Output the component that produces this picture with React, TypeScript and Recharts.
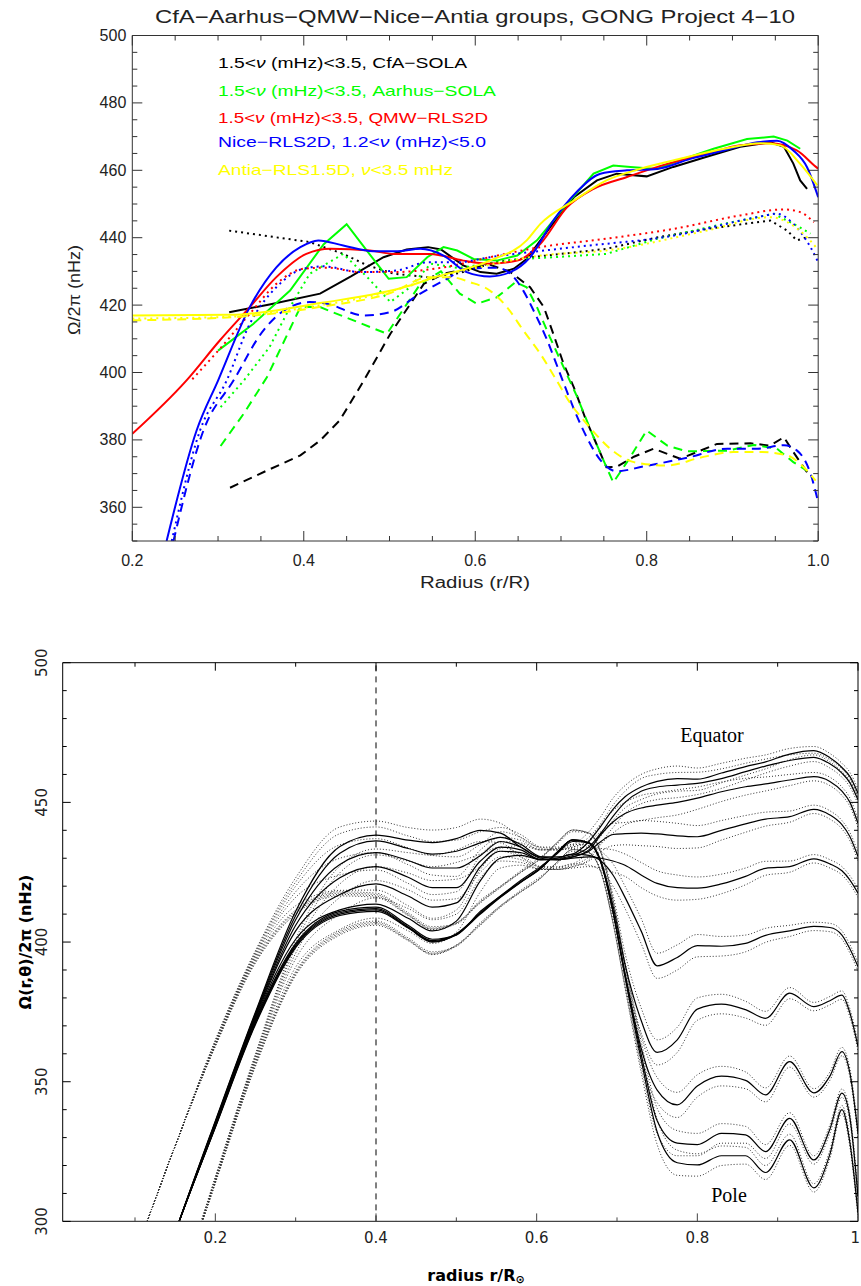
import React from "react";
import { LineChart, Line, XAxis, YAxis, ReferenceLine } from "recharts";

// ================= TOP PANEL DATA: [radius r/R, Omega/2pi (nHz)] =================
const cfaEquator = [[0.313,417.9],[0.36,420.2],[0.419,423.4],[0.455,428.5],[0.493,434.2],[0.52,436.5],[0.545,437.2],[0.56,436.5],[0.586,431.8],[0.606,429.8],[0.625,429.3],[0.645,430.8],[0.66,433.7],[0.687,443],[0.715,452],[0.742,457],[0.765,459],[0.8,458.2],[0.831,461],[0.87,464],[0.909,467],[0.944,468.3],[0.96,467],[0.971,462],[0.979,457],[0.987,454.5]];
const cfaMid = [[0.313,442.1],[0.36,440.4],[0.407,438.7],[0.446,435.2],[0.474,431.8],[0.505,429.3],[0.544,428.3],[0.582,429.5],[0.617,432.5],[0.676,434.5],[0.753,436.7],[0.812,440.1],[0.87,442.6],[0.944,445.1],[0.964,442.1],[0.975,439.2],[0.987,440.1]];
const cfaHigh = [[0.314,365.8],[0.357,370.9],[0.396,375.4],[0.419,379.8],[0.442,385.8],[0.47,397.6],[0.501,411.5],[0.54,426.3],[0.563,429.3],[0.617,432],[0.641,429.8],[0.664,425.3],[0.68,419.4],[0.691,411.5],[0.703,402.6],[0.715,395.6],[0.728,386.7],[0.753,371.9],[0.765,372],[0.785,375],[0.808,377.4],[0.839,374.4],[0.882,378.8],[0.921,379],[0.944,378.3],[0.96,380.8],[0.971,376.4],[0.987,370.4]];

const aarhusEquator = [[0.3,406.5],[0.341,414.4],[0.384,424.3],[0.423,438],[0.45,444],[0.474,436],[0.499,427.8],[0.52,428.3],[0.544,434.2],[0.563,437.2],[0.579,436.2],[0.598,433.7],[0.625,433.2],[0.649,434.7],[0.672,439.2],[0.707,450],[0.738,459],[0.761,461.4],[0.781,461],[0.812,460.4],[0.843,463.4],[0.878,466.4],[0.917,469.3],[0.948,470],[0.964,468.8],[0.979,466.4]];
const aarhusMid = [[0.303,389.7],[0.33,397.6],[0.36,407.5],[0.384,419.4],[0.407,429.3],[0.446,435.2],[0.474,428.3],[0.501,420.9],[0.524,425.3],[0.548,432.3],[0.58,431],[0.62,432.5],[0.656,433.7],[0.711,434.5],[0.753,435.2],[0.812,439.7],[0.89,444.1],[0.948,447.1],[0.975,443.6],[0.991,441.2]];
const aarhusHigh = [[0.303,378.2],[0.33,387.8],[0.357,398.6],[0.396,419.4],[0.419,419.4],[0.497,411.5],[0.536,426.3],[0.56,430],[0.582,423.4],[0.602,420.4],[0.625,422.3],[0.647,426.8],[0.66,425.3],[0.672,419.4],[0.687,410.5],[0.703,401.6],[0.719,392.7],[0.738,380.8],[0.753,371.9],[0.761,367.4],[0.777,373.4],[0.8,382.8],[0.824,378.3],[0.847,376.6],[0.894,376.8],[0.925,378.5],[0.952,377.4],[0.971,373.4],[0.987,370.9]];

const qmwEquator = [[0.2,381.8],[0.263,397.6],[0.302,409.5],[0.337,419.4],[0.368,428.3],[0.403,435.2],[0.431,436.7],[0.477,436.2],[0.505,435.2],[0.547,435.2],[0.586,433.2],[0.614,432.3],[0.649,433.2],[0.676,438.2],[0.707,449],[0.738,454.5],[0.777,458],[0.824,461.9],[0.87,464.9],[0.909,467.4],[0.944,468],[0.975,465.9],[0.997,461.1],[1.0,460.5]];
const qmwMid = [[0.27,398],[0.302,407],[0.337,417.4],[0.368,426.3],[0.4,430.8],[0.427,431.1],[0.466,429.8],[0.505,429.8],[0.563,431.2],[0.617,434.2],[0.676,437.2],[0.753,439.7],[0.831,442.6],[0.909,446.6],[0.96,448.4],[0.979,447.6],[0.995,444.6]];

const niceEquator = [[0.24,350],[0.275,382.8],[0.3,397.6],[0.337,419.4],[0.368,431.2],[0.396,437.2],[0.417,439.2],[0.446,437.7],[0.481,436],[0.509,436],[0.536,436.7],[0.563,434.7],[0.59,429.8],[0.617,428.5],[0.641,429.8],[0.664,434.2],[0.691,445.1],[0.718,453.5],[0.746,459],[0.777,460],[0.812,460.4],[0.851,463.4],[0.89,465.9],[0.929,468.3],[0.952,468.8],[0.971,465.9],[0.987,460.9],[1.0,452]];
const niceMid = [[0.246,350],[0.279,382.8],[0.31,397.6],[0.337,414.4],[0.368,425.3],[0.4,430.8],[0.423,431.5],[0.466,429.8],[0.509,430.3],[0.544,432.7],[0.578,432.7],[0.617,434.2],[0.715,437.2],[0.831,440.6],[0.929,446.1],[0.952,447.1],[0.971,444.1],[0.991,437.2],[1.0,432.7]];
const niceHigh = [[0.248,350],[0.283,382.8],[0.318,397.6],[0.353,412.5],[0.38,418.9],[0.407,420.9],[0.427,420.4],[0.47,416.9],[0.501,417.9],[0.532,422.8],[0.567,427.8],[0.59,430.8],[0.625,431.1],[0.641,429.3],[0.656,424.3],[0.668,418.4],[0.684,409.5],[0.699,399.6],[0.711,391.7],[0.73,380.8],[0.746,374],[0.765,370.7],[0.796,372.1],[0.847,374.7],[0.894,377.4],[0.929,377.4],[0.96,378.4],[0.975,376.9],[0.991,370],[1.0,361.5]];

const antiaEquator = [[0.2,416.9],[0.313,417.1],[0.419,420.6],[0.524,425.8],[0.547,427.8],[0.617,433.2],[0.66,439.2],[0.676,444.1],[0.715,451],[0.753,457],[0.792,460.4],[0.839,463.4],[0.89,466.4],[0.933,468],[0.956,467.4],[0.979,461.9],[0.999,455.5]];
const antiaMid = [[0.2,416],[0.31,416.5],[0.42,420],[0.5,424],[0.55,428],[0.6,431],[0.676,434.7],[0.753,436.2],[0.87,442.1],[0.944,446.1],[0.964,444.6],[0.987,440.1],[0.999,436.7]];
const antiaHigh = [[0.2,415.5],[0.31,416.3],[0.42,419.5],[0.5,423.5],[0.547,428.3],[0.571,428.3],[0.594,426.8],[0.617,424.3],[0.637,419.4],[0.656,412.5],[0.676,405.5],[0.695,397.6],[0.711,390.8],[0.726,386],[0.765,375.9],[0.785,373.4],[0.824,372.4],[0.862,374.7],[0.901,376.4],[0.933,376.4],[0.964,375.4],[0.979,372.9],[0.997,367.9]];

const topXTicks = [0.2,0.25,0.3,0.35,0.4,0.45,0.5,0.55,0.6,0.65,0.7,0.75,0.8,0.85,0.9,0.95,1.0];
const topXMajor = [0.2,0.4,0.6,0.8,1.0];
const topYTicks = [350,355,360,365,370,375,380,385,390,395,400,405,410,415,420,425,430,435,440,445,450,455,460,465,470,475,480,485,490,495,500];
const topYMajor = [360,380,400,420,440,460,480,500];

// ================= BOTTOM PANEL DATA =================
const radii = [0.11,0.15,0.2,0.25,0.3,0.355,0.4,0.44,0.47,0.5,0.53,0.555,0.58,0.605,0.625,0.645,0.665,0.68,0.695,0.71,0.73,0.75,0.775,0.8,0.83,0.86,0.885,0.915,0.945,0.965,0.98,0.99,1.0];
const lat0 = [262,296,336,375,411,434.2,438.3,436.5,435.6,437,440,439,434,430.5,430.5,431.5,436,441.5,447.5,452,455.5,457.5,458.5,458.3,460.5,462.8,464.5,467.3,468.5,466,462.5,459.2,453.3];
const lat10 = [262,296,335.7,374.5,409.5,431.8,436.2,433.5,431.5,432.5,435.5,437.5,435,430.5,430,431,434,439,445,450,454,455.5,456.2,456.8,458.5,461,463,465,466.1,463.8,460.5,457,450.9];
const lat20 = [262,296,335.4,374,408,427.8,432,429.2,426.5,426.5,431,436,434,430,429.5,430.5,433,438.5,443,446,448,449,450,451.5,453.8,455.6,456.6,458,459.2,457.5,454,450,442.5];
const lat30 = [262,296,335,373.5,406,423,427,423.2,419.5,419.5,429,434,433,429.5,429.5,430.5,432.5,436,438.5,438.8,439,438.7,438,437.7,440,442.3,444,444.9,447.5,445.5,442,437.7,430.6];
const lat40 = [262,296,334.7,373,404,417,420.8,416.5,412.5,414,427,432.5,432,429.5,429.5,430,430.5,430,429,427.5,424,421,419.5,419.3,420.8,423.5,426.4,427,429.8,428,425.5,422.2,417.5];
const lat50 = [262,296,334.4,372.5,401,411.5,413.6,408.5,404,407.5,422,430,431,429.5,430,431.5,431,429,424,416,404,391.5,394.5,398.7,398.5,399.5,402.4,404,405.6,405.2,402.5,397.5,391.2];
const lat60 = [262,296,334.2,372,399.5,411,412.5,406,401,402.5,411,416.5,422,427,431.5,436,435.5,429,413,392,372,360.5,365,376,377.8,375.8,372.7,381.7,376.9,379,381,374.5,362.6];
const lat70 = [262,296,334,371.5,399,410.5,412,405.5,400.5,403,410.5,416.5,421.5,426.5,432,436.6,435.5,428.5,411,389,362,347,341.7,348.5,352,350.5,345.3,357.2,346,352,360.8,353,331.6];
const lat80 = [262,296,333.8,371,398.5,410,411.5,405.2,400.2,402.8,410.3,416.2,421.5,426.5,432,436.6,435.5,428.5,411,388,360,336,328,327.5,331.5,331,325,336.9,322,333,345.9,337,308.9];
const lat90 = [262,296,333.6,370.5,398,409.5,411,405,400,402.6,410,416,421.3,426.3,432,436.6,435.5,428.5,411,387.5,358,332,321,320.2,323.5,323.5,317.5,329.2,312,324,340,328,302.9];
const errUp = [34,31,29,22,12,7,5,4.5,4.5,4,4,3.5,3.5,3.5,3.5,3.5,3.5,3.5,4,4,4.5,4.5,4.5,4,3.5,3,2.5,2,1.5,1.5,1.5,1.5,1.5];
const errDown = [30,26,20,15,10,7,5,4.5,4.5,4,4,3.5,3.5,3.5,3.5,3.5,3.5,3.5,4,4,4.5,4.5,4.5,4,3.5,3,2.5,2,1.5,1.5,1.5,1.5,1.5];

const botXTicks = [0.1,0.2,0.3,0.4,0.5,0.6,0.7,0.8,0.9,1.0];
const botXMajor = [0.2,0.4,0.6,0.8,1.0];
const botYTicks = [300,310,320,330,340,350,360,370,380,390,400,410,420,430,440,450,460,470,480,490,500];
const botYMajor = [300,350,400,450,500];

// ================= helpers =================
const toPts = (arr: number[][]) => arr.map(([r, v]) => ({ r, v }));
const curvePts = (vals: number[], shift?: number[], sign = 0) =>
  radii.map((r, i) => ({ r, v: vals[i] + (shift ? sign * shift[i] : 0) }));

const BLACK = "#000000", GREEN = "#00ff00", RED = "#ff0000", BLUE = "#0000ff", YELLOW = "#ffff00";
const DOT = "2 4", DASH = "9 6";

const topSeries = [
  { id: "cfaE", data: cfaEquator, color: BLACK, dash: undefined, kind: "linear" },
  { id: "cfaM", data: cfaMid, color: BLACK, dash: DOT, kind: "linear" },
  { id: "cfaH", data: cfaHigh, color: BLACK, dash: DASH, kind: "linear" },
  { id: "aarE", data: aarhusEquator, color: GREEN, dash: undefined, kind: "linear" },
  { id: "aarM", data: aarhusMid, color: GREEN, dash: DOT, kind: "linear" },
  { id: "aarH", data: aarhusHigh, color: GREEN, dash: DASH, kind: "linear" },
  { id: "qmwE", data: qmwEquator, color: RED, dash: undefined, kind: "monotone" },
  { id: "qmwM", data: qmwMid, color: RED, dash: DOT, kind: "monotone" },
  { id: "niceE", data: niceEquator, color: BLUE, dash: undefined, kind: "monotone" },
  { id: "niceM", data: niceMid, color: BLUE, dash: DOT, kind: "monotone" },
  { id: "niceH", data: niceHigh, color: BLUE, dash: DASH, kind: "monotone" },
  { id: "antE", data: antiaEquator, color: YELLOW, dash: undefined, kind: "monotone" },
  { id: "antM", data: antiaMid, color: YELLOW, dash: DOT, kind: "monotone" },
  { id: "antH", data: antiaHigh, color: YELLOW, dash: DASH, kind: "monotone" },
];

const latCurves = [lat0, lat10, lat20, lat30, lat40, lat50, lat60, lat70, lat80, lat90];

type TickOpts = {
  majors: number[]; majorLen: number; minorLen: number;
  side: "bottom" | "top" | "left" | "right"; stroke: string;
  label?: (v: number) => string; gap?: number; fontSize?: number; fontFamily?: string; rotate?: boolean; fill?: string; lastEnd?: boolean;
};
const makeTick = (o: TickOpts) => (props: any) => {
  const { x, y, payload } = props;
  const v = payload.value as number;
  const major = o.majors.some((m) => Math.abs(m - v) < 1e-6);
  const len = major ? o.majorLen : o.minorLen;
  let x2 = x, y2 = y;
  if (o.side === "bottom") y2 = y - len;
  if (o.side === "top") y2 = y + len;
  if (o.side === "left") x2 = x + len;
  if (o.side === "right") x2 = x - len;
  let label: any = null;
  if (o.label && major) {
    const gap = o.gap ?? 10;
    const common = { fontSize: o.fontSize ?? 16, fontFamily: o.fontFamily ?? "Liberation Sans", fill: o.fill ?? "#222" };
    if (o.side === "bottom") {
      const atEnd = o.lastEnd && Math.abs(v - 1) < 1e-6;
      label = (
        <text x={atEnd ? x + 2 : x} y={y + gap} textAnchor={atEnd ? "end" : "middle"} dominantBaseline="central" {...common}>
          {o.label(v)}
        </text>
      );
    } else if (o.side === "left") {
      label = o.rotate ? (
        <text transform={`translate(${x - gap},${y}) rotate(-90)`} textAnchor="middle" dominantBaseline="central" {...common}>{o.label(v)}</text>
      ) : (
        <text x={x - gap} y={y} textAnchor="end" dominantBaseline="central" {...common}>{o.label(v)}</text>
      );
    }
  }
  return (
    <g>
      <line x1={x} y1={y} x2={x2} y2={y2} stroke={o.stroke} strokeWidth={1} />
      {label}
    </g>
  );
};

const TOP_AX = "#333";
const BOT_AX = "#444";

function TopChart() {
  return (
    <LineChart width={861} height={600} margin={{ top: 34.5, right: 41.8, bottom: 58, left: 131.3 }}>
      <XAxis xAxisId={0} dataKey="r" type="number" domain={[0.2, 1.0]} ticks={topXTicks} interval={0} allowDataOverflow
        height={1} tickSize={0} tickMargin={0} axisLine={{ stroke: TOP_AX }} tickLine={false}
        tick={makeTick({ majors: topXMajor, majorLen: 10, minorLen: 5, side: "bottom", stroke: TOP_AX, label: (v) => v.toFixed(1), gap: 19 })} />
      <XAxis xAxisId="top" orientation="top" dataKey="r" type="number" domain={[0.2, 1.0]} ticks={topXTicks} interval={0} allowDataOverflow
        height={1} tickSize={0} tickMargin={0} axisLine={{ stroke: TOP_AX }} tickLine={false}
        tick={makeTick({ majors: topXMajor, majorLen: 10, minorLen: 5, side: "top", stroke: TOP_AX })} />
      <YAxis yAxisId={0} dataKey="v" type="number" domain={[350, 500]} ticks={topYTicks} interval={0} allowDataOverflow
        width={1} tickSize={0} tickMargin={0} axisLine={{ stroke: TOP_AX }} tickLine={false}
        tick={makeTick({ majors: topYMajor, majorLen: 10, minorLen: 5, side: "left", stroke: TOP_AX, label: (v) => String(v), gap: 6 })} />
      <YAxis yAxisId="right" orientation="right" dataKey="v" type="number" domain={[350, 500]} ticks={topYTicks} interval={0} allowDataOverflow
        width={1} tickSize={0} tickMargin={0} axisLine={{ stroke: TOP_AX }} tickLine={false}
        tick={makeTick({ majors: topYMajor, majorLen: 10, minorLen: 5, side: "right", stroke: TOP_AX })} />
      {topSeries.map((s) => (
        <Line key={s.id} data={toPts(s.data)} dataKey="v" type={s.kind as any} stroke={s.color} strokeWidth={2}
          strokeDasharray={s.dash} dot={false} activeDot={false} isAnimationActive={false} />
      ))}
    </LineChart>
  );
}

function BottomChart() {
  return (
    <LineChart width={861} height={686} margin={{ top: 61.7, right: 2, bottom: 63.6, left: 61.7 }}>
      <XAxis xAxisId={0} dataKey="r" type="number" domain={[0.01, 1.0]} ticks={botXTicks} interval={0} allowDataOverflow
        height={1} tickSize={0} tickMargin={0} axisLine={{ stroke: BOT_AX, strokeWidth: 1.3 }} tickLine={false}
        tick={makeTick({ majors: botXMajor, majorLen: 8, minorLen: 4, side: "bottom", stroke: BOT_AX, label: (v) => (Math.abs(v - 1) < 1e-6 ? "1" : v.toFixed(1)), gap: 17, fontFamily: "DejaVu Sans", fontSize: 15, lastEnd: true })} />
      <XAxis xAxisId="top" orientation="top" dataKey="r" type="number" domain={[0.01, 1.0]} ticks={botXTicks} interval={0} allowDataOverflow
        height={1} tickSize={0} tickMargin={0} axisLine={{ stroke: "#000" }} tickLine={false}
        tick={makeTick({ majors: botXMajor, majorLen: 8, minorLen: 4, side: "top", stroke: "#000" })} />
      <YAxis yAxisId={0} dataKey="v" type="number" domain={[300, 500]} ticks={botYTicks} interval={0} allowDataOverflow
        width={1} tickSize={0} tickMargin={0} axisLine={{ stroke: "#000" }} tickLine={false}
        tick={makeTick({ majors: botYMajor, majorLen: 8, minorLen: 4, side: "left", stroke: "#000", label: (v) => String(v), gap: 21, rotate: true, fontFamily: "DejaVu Sans", fontSize: 15 })} />
      <YAxis yAxisId="right" orientation="right" dataKey="v" type="number" domain={[300, 500]} ticks={botYTicks} interval={0} allowDataOverflow
        width={1} tickSize={0} tickMargin={0} axisLine={{ stroke: "#000" }} tickLine={false}
        tick={makeTick({ majors: botYMajor, majorLen: 8, minorLen: 4, side: "right", stroke: "#000" })} />
      <ReferenceLine x={0.4} stroke="#000" strokeWidth={1} strokeDasharray="6 5" />
      {latCurves.map((c, i) => (
        <Line key={"up" + i} data={curvePts(c, errUp, 1)} dataKey="v" type="monotone" stroke="#333" strokeWidth={1}
          strokeDasharray="1 2" dot={false} activeDot={false} isAnimationActive={false} />
      ))}
      {latCurves.map((c, i) => (
        <Line key={"dn" + i} data={curvePts(c, errDown, -1)} dataKey="v" type="monotone" stroke="#333" strokeWidth={1}
          strokeDasharray="1 2" dot={false} activeDot={false} isAnimationActive={false} />
      ))}
      {latCurves.map((c, i) => (
        <Line key={"c" + i} data={curvePts(c)} dataKey="v" type="monotone" stroke="#000" strokeWidth={1.2}
          dot={false} activeDot={false} isAnimationActive={false} />
      ))}
    </LineChart>
  );
}

const legendFont = { fontFamily: "Liberation Sans", fontSize: 15 };

export default function App() {
  return (
    <div style={{ position: "absolute", left: 0, top: 0, width: 861, height: 1286, background: "#fff", overflow: "hidden" }}>
      <div style={{ position: "absolute", left: 0, top: 0 }}>
        <TopChart />
      </div>
      <div style={{ position: "absolute", left: 0, top: 600 }}>
        <BottomChart />
      </div>
      <svg width={861} height={1286} style={{ position: "absolute", left: 0, top: 0, pointerEvents: "none" }}>
        <text x={475} y={17} textAnchor="middle" dominantBaseline="central" fontFamily="Liberation Sans" fontSize={18} fill="#222" textLength={640} lengthAdjust="spacingAndGlyphs">
          CfA−Aarhus−QMW−Nice−Antia groups, GONG Project 4−10
        </text>
        <text x={218} y={62} dominantBaseline="central" {...legendFont} fill={BLACK} textLength={249} lengthAdjust="spacingAndGlyphs">
          1.5&lt;<tspan fontStyle="italic">ν</tspan> (mHz)&lt;3.5, CfA−SOLA
        </text>
        <text x={218} y={90} dominantBaseline="central" {...legendFont} fill={GREEN} textLength={278} lengthAdjust="spacingAndGlyphs">
          1.5&lt;<tspan fontStyle="italic">ν</tspan> (mHz)&lt;3.5, Aarhus−SOLA
        </text>
        <text x={218} y={117} dominantBaseline="central" {...legendFont} fill={RED} textLength={270} lengthAdjust="spacingAndGlyphs">
          1.5&lt;<tspan fontStyle="italic">ν</tspan> (mHz)&lt;3.5, QMW−RLS2D
        </text>
        <text x={218} y={141} dominantBaseline="central" {...legendFont} fill={BLUE} textLength={268} lengthAdjust="spacingAndGlyphs">
          Nice−RLS2D, 1.2&lt;<tspan fontStyle="italic">ν</tspan> (mHz)&lt;5.0
        </text>
        <text x={218} y={169} dominantBaseline="central" {...legendFont} fill={YELLOW} textLength={235} lengthAdjust="spacingAndGlyphs">
          Antia−RLS1.5D, <tspan fontStyle="italic">ν</tspan>&lt;3.5 mHz
        </text>
        <text x={475} y={582} textAnchor="middle" dominantBaseline="central" fontFamily="Liberation Sans" fontSize={16} fill="#222" textLength={110} lengthAdjust="spacingAndGlyphs">
          Radius (r/R)
        </text>
        <text transform="translate(74,290) rotate(-90)" textAnchor="middle" dominantBaseline="central" fontFamily="Liberation Sans" fontSize={16} fill="#222" textLength={90} lengthAdjust="spacingAndGlyphs">
          Ω/2π (nHz)
        </text>
        <text x={712} y={735} textAnchor="middle" dominantBaseline="central" fontFamily="Liberation Serif" fontSize={20} fill="#000">
          Equator
        </text>
        <text x={729} y={1195} textAnchor="middle" dominantBaseline="central" fontFamily="Liberation Serif" fontSize={20} fill="#000">
          Pole
        </text>
        <text transform="translate(25,942) rotate(-90)" textAnchor="middle" dominantBaseline="central" fontFamily="DejaVu Sans" fontWeight="bold" fontSize={16} fill="#000">
          Ω(r,θ)/2π (nHz)
        </text>
        <text x={476} y={1275} textAnchor="middle" dominantBaseline="central" fontFamily="DejaVu Sans" fontWeight="bold" fontSize={16} fill="#000">
          radius r/R<tspan fontSize={11} dy={4}>⊙</tspan>
        </text>
      </svg>
    </div>
  );
}
